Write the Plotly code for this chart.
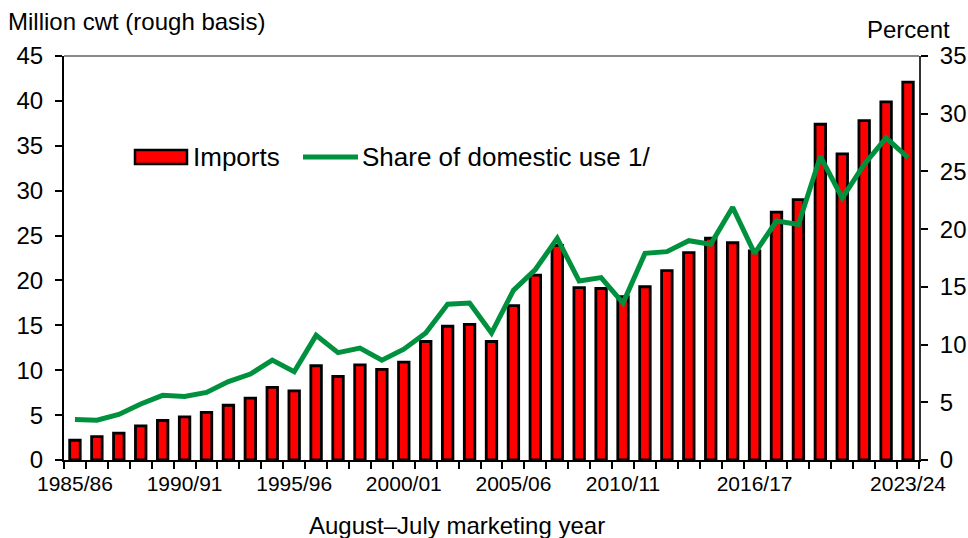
import plotly.graph_objects as go

years = ["1985/86", "1986/87", "1987/88", "1988/89", "1989/90", "1990/91", "1991/92",
         "1992/93", "1993/94", "1994/95", "1995/96", "1996/97", "1997/98", "1998/99",
         "1999/00", "2000/01", "2001/02", "2002/03", "2003/04", "2004/05", "2005/06",
         "2006/07", "2007/08", "2008/09", "2009/10", "2010/11", "2011/12", "2012/13",
         "2013/14", "2014/15", "2015/16", "2016/17", "2017/18", "2018/19", "2019/20",
         "2020/21", "2021/22", "2022/23", "2023/24"]

imports = [2.2, 2.6, 3.0, 3.8, 4.4, 4.8, 5.3, 6.1, 6.9, 8.1, 7.7, 10.5, 9.3, 10.6, 10.1,
           10.9, 13.2, 14.9, 15.1, 13.2, 17.2, 20.6, 23.9, 19.2, 19.1, 18.2, 19.3, 21.1,
           23.1, 24.7, 24.2, 23.3, 27.6, 29.0, 37.4, 34.1, 37.8, 39.9, 42.1]

share = [3.5, 3.45, 3.95, 4.85, 5.6, 5.5, 5.85, 6.8, 7.45, 8.65, 7.65, 10.8, 9.3, 9.7, 8.65,
         9.6, 11.0, 13.5, 13.6, 11.0, 14.7, 16.5, 19.2, 15.5, 15.8, 13.6, 17.9, 18.05,
         19.0, 18.7, 21.9, 17.9, 20.7, 20.4, 26.3, 22.7, 25.6, 27.9, 26.2]

tick_labels = ["1985/86", "1990/91", "1995/96", "2000/01", "2005/06", "2010/11",
               "2016/17", "2023/24"]

RED = "#FF0000"
GREEN = "#00913F"
FONT = "Liberation Sans, Arial, sans-serif"

idx = list(range(len(years)))
tick_idx = [years.index(t) for t in tick_labels]

fig = go.Figure()
fig.add_trace(go.Bar(x=idx, y=imports, width=0.48, name="Imports",
                     marker=dict(color=RED, line=dict(color="black", width=2.8)),
                     customdata=years, hovertemplate="%{customdata}: %{y}<extra></extra>"))
fig.add_trace(go.Scatter(x=idx, y=share, yaxis="y2", mode="lines",
                         name="Share of domestic use 1/",
                         line=dict(color=GREEN, width=5),
                         customdata=years, hovertemplate="%{customdata}: %{y}%<extra></extra>"))

W, H = 968, 538
L_PAGE, T_PAGE, R_PAGE, B_PAGE = 64, 56, 919, 460
pw, ph = R_PAGE - L_PAGE, B_PAGE - T_PAGE

def px(x):
    return (x - L_PAGE) / pw

def py(y):
    return (B_PAGE - y) / ph

fig.update_layout(
    template="none",
    width=W, height=H, autosize=False,
    margin=dict(l=L_PAGE, r=W - R_PAGE, t=T_PAGE, b=H - B_PAGE, pad=0),
    paper_bgcolor="white", plot_bgcolor="white",
    showlegend=False,
    font=dict(family=FONT, size=21, color="black"),
    xaxis=dict(range=[-0.5, len(years) - 0.5], tickvals=tick_idx, ticktext=tick_labels,
               ticks="", showline=True, linecolor="black", linewidth=2, automargin=False,
               showgrid=False, zeroline=False, tickfont=dict(size=21),
               ticklabelstandoff=4,
               minor=dict(tick0=-0.5, dtick=1, ticks="outside", ticklen=7,
                          tickcolor="black", tickwidth=1.5, showgrid=False)),
    yaxis=dict(range=[0, 45], dtick=5, ticks="outside", ticklen=7, tickwidth=1.5,
               tickcolor="black", showline=True, linecolor="black", linewidth=2,
               showgrid=False, zeroline=False, tickfont=dict(size=24), automargin=False,
               ticklabelstandoff=7),
    yaxis2=dict(range=[0, 35], dtick=5, overlaying="y", side="right", ticks="outside",
                ticklen=7, tickwidth=1.5, tickcolor="black", showline=True,
                linecolor="#333333", linewidth=2, showgrid=False, zeroline=False,
                tickfont=dict(size=24), ticklabelstandoff=7, automargin=False),
    bargap=0.5,
)

shapes = [
    dict(type="line", xref="paper", yref="paper", x0=0, x1=1, y0=1, y1=1,
         line=dict(color="#888888", width=2)),
    dict(type="rect", xref="paper", yref="paper", x0=px(135), x1=px(187),
         y0=py(164), y1=py(150), fillcolor=RED, line=dict(color="black", width=2.5)),
    dict(type="line", xref="paper", yref="paper", x0=px(303), x1=px(358),
         y0=py(157), y1=py(157), line=dict(color=GREEN, width=5)),
]
fig.update_layout(shapes=shapes)

annotations = [
    dict(text="Imports", xref="paper", yref="paper", x=px(191), y=py(157),
         xanchor="left", yanchor="middle", showarrow=False, font=dict(size=26)),
    dict(text="Share of domestic use 1/", xref="paper", yref="paper", x=px(360),
         y=py(157), xanchor="left", yanchor="middle", showarrow=False,
         font=dict(size=26)),
    dict(text="Million cwt (rough basis)", xref="paper", yref="paper", x=px(6),
         y=py(22), xanchor="left", yanchor="middle", showarrow=False,
         font=dict(size=24)),
    dict(text="Percent", xref="paper", yref="paper", x=px(952), y=py(30),
         xanchor="right", yanchor="middle", showarrow=False, font=dict(size=24)),
    dict(text="August\u2013July marketing year", xref="paper", yref="paper",
         x=px(457), y=py(525), xanchor="center", yanchor="middle", showarrow=False,
         font=dict(size=24)),
]
fig.update_layout(annotations=annotations)

fig.write_html("out.html", config={"displayModeBar": False},
               post_script="document.body.style.margin='0';"
                           "document.body.style.overflow='hidden';")
